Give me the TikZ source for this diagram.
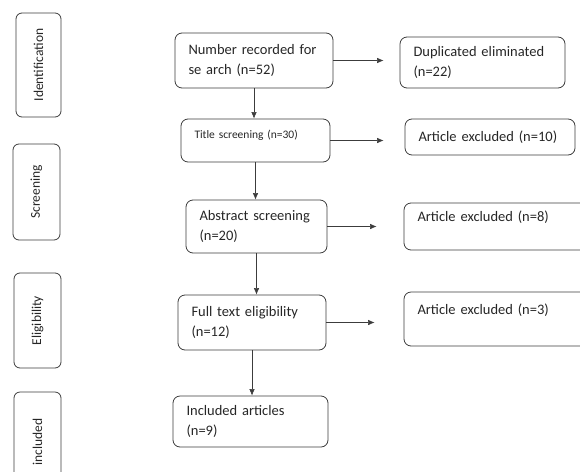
\documentclass[tikz,border=0pt]{standalone}
\usepackage{fontspec}
\setmainfont{Carlito}
\usepackage[]{xcolor}
\usetikzlibrary{arrows.meta}
\definecolor{boxline}{HTML}{3C3C3C}
\definecolor{ink}{HTML}{262626}

\begin{document}
\begin{tikzpicture}[
            x=1pt, y=-1pt,
            every node/.style={text=ink},
            stage/.style={rectangle, draw=boxline, thick, rounded corners=6pt, rotate=90, inner sep=0pt, font=\fontsize{13.5}{16}\selectfont},
            stepbox/.style={rectangle, draw=boxline, thick, rounded corners=7pt, align=left, inner xsep=13.5pt, inner ysep=0pt, font=\fontsize{14.5}{20}\selectfont},
            arrow/.style={-{Latex[length=6.5pt,width=5.5pt]}, semithick, draw=boxline}
        ]
            \clip (0,0) rectangle (580,471);
            % stage labels down the left side
            \node[stage, minimum width=104pt, minimum height=45pt] (ident) at (38.5,65) {Identification};
            \node[stage, minimum width=96pt, minimum height=47pt] (screen) at (36.5,192) {Screening};
            \node[stage, minimum width=95pt, minimum height=47pt] (elig) at (37.5,320.5) {Eligibility};
            \node[stage, minimum width=100pt, minimum height=47pt] (incl) at (37.5,442) {included};

            % main flow
            \node[stepbox, text width=131pt, minimum height=55pt] (B1) at (254,60.5) {Number recorded for\\se arch (n=52)};
            \node[stepbox, text width=122pt, minimum height=43pt, font=\fontsize{11.5}{12}\selectfont] (B2) at (255.5,140.5) {Title screening (n=30)\\\mbox{}};
            \node[stepbox, text width=114pt, minimum height=53pt] (B3) at (256.5,226.5) {Abstract screening\\(n=20)};
            \node[stepbox, text width=121pt, minimum height=55pt] (B4) at (252,322.5) {Full text eligibility\\(n=12)};
            \node[stepbox, text width=128pt, minimum height=51pt] (B5) at (250.5,421.5) {Included articles\\(n=9)};

            % excluded records
            \node[stepbox, text width=138pt, minimum height=51pt] (R1) at (482.5,62.5) {Duplicated eliminated\\(n=22)};
            \node[stepbox, text width=143pt, minimum height=36pt] (R2) at (490,137) {Article excluded (n=10)};
            \node[stepbox, text width=169pt, minimum height=47pt] (R3) at (502,226.5) {Article excluded (n=8)\\\mbox{}};
            \node[stepbox, text width=169pt, minimum height=54pt] (R4) at (502,319) {Article excluded (n=3)\\\mbox{}};

            \draw[arrow] (B1) -- (B1.south |- B2.north);
            \draw[arrow] (B2) -- (B2.south |- B3.north);
            \draw[arrow] (B3) -- (B3.south |- B4.north);
            \draw[arrow] (B4) -- (B4.south |- B5.north);

            \draw[arrow, shorten >=16pt] (B1.east) -- (B1.east -| R1.west);
            \draw[arrow, shorten >=21pt] (B2.east) -- (B2.east -| R2.west);
            \draw[arrow, shorten >=27pt] (B3.east) -- (B3.east -| R3.west);
            \draw[arrow, shorten >=29pt] (B4.east) -- (B4.east -| R4.west);
        \end{tikzpicture}
\end{document}
